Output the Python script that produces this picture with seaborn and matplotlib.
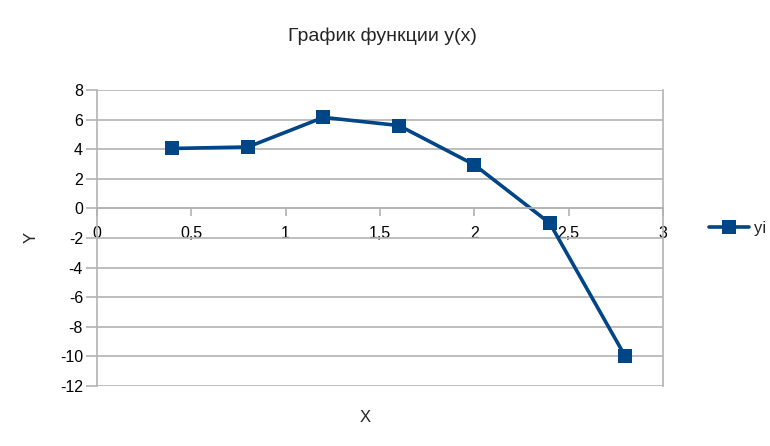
import matplotlib
matplotlib.use("Agg")
import matplotlib.pyplot as plt
import seaborn as sns
import pandas as pd

## Data
x_values = [0.4, 0.8, 1.2, 1.6, 2.0, 2.4, 2.8]
y_values = [4.05, 4.15, 6.15, 5.6, 2.95, -1.0, -10.0]
x_ticks = [0, 0.5, 1, 1.5, 2, 2.5, 3]
x_tick_labels = ["0", "0,5", "1", "1,5", "2", "2,5", "3"]
y_ticks = [-12, -10, -8, -6, -4, -2, 0, 2, 4, 6, 8]
y_tick_labels = ["-12", "-10", "-8", "-6", "-4", "-2", "0", "2", "4", "6", "8"]
series_name = "yi"

df = pd.DataFrame({"x": x_values, "y": y_values, "series": series_name})

sns.set_theme(style="white")
plt.rcParams["font.family"] = ["Liberation Sans", "DejaVu Sans"]

fig = plt.figure(figsize=(7.7, 4.46), dpi=100)
# plot area in pixels: left 97, right 663, top 90, bottom 386
ax = fig.add_axes([97 / 770, 1 - 386 / 446, (663 - 97) / 770, (386 - 90) / 446])

line_color = "#004586"
grid_color = "#b3b3b3"

sns.lineplot(data=df, x="x", y="y", hue="series", palette=[line_color],
             marker="s", markersize=10, markeredgewidth=0, linewidth=2.6,
             ax=ax, legend=True)

ax.set_xlim(0, 3)
ax.set_ylim(-12, 8)
ax.set_yticks(y_ticks)
ax.set_yticklabels(y_tick_labels)
ax.set_xticks(x_ticks)
ax.set_xticklabels(x_tick_labels)

# horizontal gridlines only
ax.yaxis.grid(True, color=grid_color, linewidth=1.2)
ax.xaxis.grid(False)
ax.set_axisbelow(True)

# x axis crosses at y = 0
ax.spines["bottom"].set_position(("data", 0))
for side in ["bottom", "left", "right"]:
    ax.spines[side].set_color(grid_color)
    ax.spines[side].set_linewidth(1.2)
ax.spines["top"].set_visible(False)

ax.tick_params(axis="y", left=True, length=8, width=1.2, color=grid_color,
               pad=2, labelsize=11.5, labelcolor="black")
ax.tick_params(axis="x", bottom=True, direction="out", length=6, width=1.2,
               color=grid_color, pad=7, labelsize=11.5, labelcolor="black")

ax.set_xlabel("")
ax.set_ylabel("")
fig.text(365 / 770, 1 - 418 / 446, "X", ha="center", va="center", fontsize=12)
fig.text(31 / 770, 1 - 237 / 446, "Y", ha="center", va="center",
         rotation=90, fontsize=12)
fig.text(382 / 770, 1 - 36 / 446, "График функции y(x)", ha="center",
         va="center", fontsize=14)

leg = ax.legend(loc="center left", bbox_to_anchor=(702 / 770, 1 - 228 / 446),
                bbox_transform=fig.transFigure, frameon=False, fontsize=12,
                handlelength=2.4, handletextpad=0.3, borderaxespad=0)

fig.savefig("out.png", dpi=100)
